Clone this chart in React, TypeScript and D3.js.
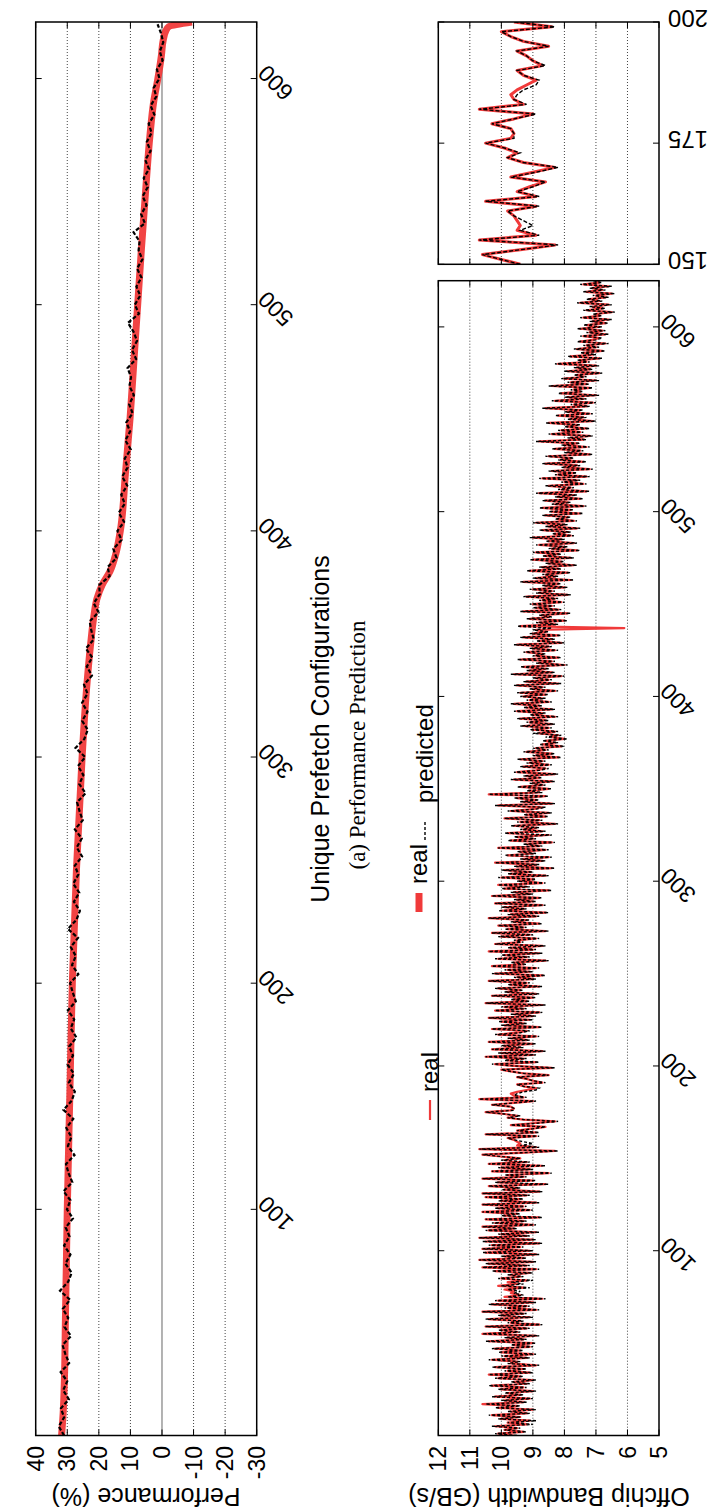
import React from "react";
import * as d3 from "d3";

const FONT = "'Liberation Sans', Arial, Helvetica, sans-serif";
const SERIF = "'Liberation Serif', 'Times New Roman', serif";
const RED = "#f03a3a";

// ---------- Performance prediction panel ----------
const perfTicks = [40, 30, 20, 10, 0, -10, -20, -30];
const configTicks = [100, 200, 300, 400, 500, 600];

// measured performance (thick smooth curve), knots along the configuration index
const perfRealIdx = [0, 10, 25, 50, 100, 150, 200, 250, 300, 330, 350, 362, 370, 376, 382, 390, 400, 425, 450, 475, 500, 525, 550, 575, 590, 600, 610, 617, 621, 623, 625];
const perfRealVal = [31.8, 31.3, 30.9, 30.6, 30.0, 29.2, 28.4, 27.1, 25.3, 23.9, 22.6, 21.6, 20.6, 19.0, 16.5, 14.6, 13.2, 11.6, 10.1, 8.9, 7.7, 6.5, 5.2, 3.8, 2.6, 1.3, 0.2, -0.4, -1.2, -2.2, -9.5];

// predicted performance, one value every 4 configurations (0..624)
const perfPredStep = 4;
const perfPredVal = [
  31.0, 32.7, 31.0, 32.0, 29.5, 31.3, 30.0, 32.1, 29.4, 30.6,
  31.5, 28.8, 30.9, 29.7, 31.4, 29.1, 32.3, 29.7, 28.6, 30.6,
  29.0, 31.0, 29.3, 30.5, 28.2, 30.1, 29.0, 31.2, 28.4, 29.6,
  30.4, 27.7, 29.8, 28.7, 30.3, 28.1, 31.2, 28.6, 27.6, 29.5,
  27.9, 29.9, 28.2, 29.4, 27.1, 28.9, 27.8, 29.8, 27.3, 28.3,
  29.1, 26.5, 28.5, 27.3, 28.9, 26.6, 29.8, 27.1, 26.0, 27.9,
  26.2, 28.1, 26.5, 27.6, 25.3, 27.0, 25.4, 27.6, 25.1, 26.1,
  26.9, 24.2, 26.2, 24.9, 26.6, 24.3, 27.4, 24.6, 23.5, 25.3,
  23.6, 25.3, 23.6, 24.7, 22.2, 23.8, 22.1, 24.1, 21.6, 22.4,
  22.9, 20.1, 21.6, 19.7, 19.9, 16.6, 17.2, 14.4, 15.4, 12.8,
  14.1, 12.0, 13.7, 11.8, 12.9, 11.0, 12.6, 10.9, 11.8, 9.9,
  11.6, 10.1, 11.3, 9.3, 10.4, 8.9, 10.3, 9.8, 10.9, 8.2,
  9.5, 7.9, 9.0, 10.8, 7.3, 8.6, 6.9, 8.1, 6.5, 7.9,
  6.2, 7.4, 7.1, 9.0, 5.4, 6.6, 4.9, 6.1, 4.5, 5.8,
  4.1, 5.3, 3.6, 4.8, 3.3, 4.2, 2.4, 3.6, 1.8, 2.6,
  0.8, 1.6, -0.2, 0.7, -0.4, 0.3, 1.4,
];

// ---------- Offchip bandwidth panel (one value per configuration, 0..625) ----------
const bwTicks = [12, 11, 10, 9, 8, 7, 6, 5];
const insetTicks = [150, 175, 200];
const insetFrom = 150;
const insetTo = 200;

const bwReal = [
  9.6, 10.1, 9.3, 9.9, 9.5, 10.2, 9.2, 9.8, 9.1, 10.0, 9.4, 10.3, 9.2, 9.7, 9.0, 10.1, 9.5, 10.6, 9.3, 9.9, 9.1, 10.2, 9.4, 9.8, 9.0,
  10.0, 9.3, 10.3, 9.2, 9.6, 9.0, 10.1, 9.4, 10.4, 9.1, 9.8, 9.3, 10.2, 8.9, 9.7, 9.5, 10.3, 9.2, 9.9, 9.0, 10.0, 9.4, 10.2, 9.1, 9.6,
  9.0, 10.4, 9.3, 9.8, 8.9, 10.6, 9.5, 10.0, 9.2, 10.5, 8.8, 9.7, 9.4, 10.4, 9.1, 10.0, 9.3, 10.6, 8.9, 9.8, 9.2, 10.3, 9.0, 10.1, 8.7,
  9.9, 9.4, 9.7, 9.6, 9.9, 9.3, 10.1, 9.5, 9.8, 9.2, 10.0, 9.4, 9.7, 9.1, 10.2, 8.9, 10.6, 9.2, 10.4, 9.0, 10.7, 9.3, 9.9, 8.9, 10.5,
  9.1, 10.6, 9.4, 10.3, 8.8, 10.5, 9.0, 10.7, 9.2, 10.0, 8.9, 10.4, 9.6, 10.6, 9.0, 10.2, 9.3, 10.5, 8.8, 9.9, 9.5, 10.6, 9.1, 10.1, 9.3,
  10.6, 8.9, 10.0, 9.4, 10.5, 9.2, 10.6, 8.8, 9.9, 9.5, 10.4, 8.6, 10.1, 9.0, 10.6, 9.3, 9.8, 8.5, 10.3, 9.1, 10.0, 8.7, 10.4, 9.2, 9.9,
  9.4, 10.0, 10.6, 9.4, 8.3, 10.7, 8.9, 9.5, 9.4, 9.5, 9.6, 9.8, 8.9, 10.5, 8.9, 9.5, 9.1, 8.6, 9.7, 9.0, 8.3, 9.3, 9.8, 9.5, 9.9,
  10.5, 9.7, 9.6, 9.7, 10.3, 9.6, 9.0, 10.7, 9.3, 9.6, 9.7, 9.5, 9.2, 8.9, 9.3, 9.5, 8.7, 9.0, 9.2, 9.5, 8.5, 9.3, 9.7, 10.0, 8.4, 9.6,
  10.2, 8.9, 9.8, 9.3, 10.5, 9.0, 10.0, 8.7, 10.3, 9.4, 9.9, 9.0, 10.4, 9.2, 9.7, 8.9, 10.1, 9.5, 9.2, 10.3, 8.8, 9.9, 9.3, 10.0, 9.1,
  10.4, 9.0, 9.6, 8.8, 10.2, 9.3, 9.9, 8.7, 10.5, 9.2, 9.6, 9.0, 10.3, 8.9, 9.8, 9.4, 10.1, 8.8, 9.7, 9.2, 10.4, 9.0, 9.5, 8.7, 10.2,
  9.1, 9.8, 8.9, 10.3, 9.3, 9.6, 8.6, 10.1, 9.2, 9.9, 8.8, 10.4, 9.0, 9.7, 8.7, 10.2, 9.4, 9.5, 8.9, 10.0, 9.1, 10.3, 8.6, 9.8, 9.3,
  10.1, 8.8, 9.6, 9.2, 10.4, 8.9, 9.7, 8.6, 10.0, 9.3, 9.9, 8.7, 10.2, 9.0, 9.5, 8.8, 10.3, 9.1, 9.6, 8.5, 9.9, 9.2, 10.1, 8.7, 9.4,
  9.0, 10.0, 8.6, 9.7, 9.1, 9.9, 8.4, 9.5, 8.9, 10.2, 8.7, 9.3, 8.5, 9.8, 9.0, 9.4, 8.6, 10.1, 8.8, 9.2, 8.4, 9.7, 9.0, 9.5, 8.5,
  9.8, 8.7, 9.3, 8.9, 9.6, 8.3, 9.4, 8.8, 9.9, 8.6, 9.2, 8.5, 9.7, 9.0, 8.7, 10.1, 8.4, 9.3, 8.9, 9.5, 8.6, 10.4, 8.8, 9.1, 8.5,
  9.4, 8.7, 9.0, 8.4, 9.6, 8.8, 9.2, 8.3, 9.5, 8.9, 8.6, 9.3, 8.5, 9.1, 8.7, 9.4, 8.2, 8.9, 8.4, 9.2, 8.6, 8.9, 8.1, 8.7, 8.3,
  8.6, 8.0, 8.4, 8.2, 8.8, 8.3, 9.0, 8.5, 9.3, 8.4, 9.1, 8.6, 9.4, 8.3, 9.0, 8.7, 9.5, 8.4, 9.2, 8.8, 9.6, 8.5, 9.1, 8.7, 9.3,
  8.6, 9.4, 8.3, 9.0, 8.7, 9.5, 8.2, 9.2, 8.5, 8.9, 8.1, 9.6, 8.4, 9.1, 8.6, 9.3, 8.0, 8.8, 8.4, 9.4, 8.2, 8.9, 8.7, 9.2, 8.3,
  9.0, 8.5, 9.5, 8.1, 8.8, 8.4, 9.3, 8.2, 9.0, 8.6, 8.9, 6.1, 9.4, 8.3, 8.8, 8.0, 9.1, 8.5, 8.7, 7.9, 9.3, 8.2, 8.9, 8.4, 9.0,
  8.1, 8.7, 8.3, 9.2, 7.9, 8.8, 8.4, 9.0, 8.0, 8.6, 8.2, 9.3, 7.8, 8.9, 8.3, 8.6, 7.9, 9.1, 8.2, 8.7, 7.7, 8.5, 8.1, 9.0, 7.8,
  8.6, 8.2, 8.9, 7.6, 8.4, 8.0, 8.8, 7.7, 8.5, 8.1, 9.0, 7.8, 8.3, 7.9, 8.7, 7.6, 8.5, 8.0, 8.9, 7.7, 8.2, 7.9, 8.6, 7.5, 8.4,
  7.8, 8.7, 7.4, 8.3, 7.9, 8.6, 7.5, 8.2, 7.7, 8.8, 7.3, 8.1, 7.8, 8.5, 7.4, 8.0, 7.6, 8.7, 7.3, 8.2, 7.7, 8.4, 7.2, 8.0, 7.6,
  8.6, 7.4, 8.1, 7.8, 8.5, 7.2, 7.9, 7.5, 8.3, 7.3, 8.0, 7.6, 8.8, 7.4, 7.8, 7.2, 8.4, 7.5, 8.1, 7.3, 7.9, 7.6, 8.5, 7.1, 7.8,
  7.4, 8.2, 7.2, 7.9, 7.5, 8.6, 7.3, 7.7, 7.1, 8.3, 7.4, 7.9, 7.0, 8.1, 7.5, 7.7, 7.2, 8.4, 7.3, 7.8, 7.0, 8.0, 7.4, 7.6, 6.9,
  7.9, 7.2, 7.6, 7.0, 8.2, 7.3, 7.5, 6.9, 7.8, 7.1, 7.4, 6.8, 7.6, 7.0, 7.3, 6.7, 7.5, 7.1, 6.9, 7.4, 6.7, 7.2, 6.8, 7.5, 6.9,
  7.3, 6.7, 7.1, 6.6, 7.4, 6.9, 7.0, 6.5, 7.3, 6.8, 7.1, 6.6, 7.5, 6.9, 7.2, 6.7, 7.0, 6.5, 7.3, 6.8, 7.1, 6.6, 7.4, 6.9, 7.0,
];

const bwPred = [
  9.5, 10.2, 9.2, 9.9, 9.4, 10.3, 9.0, 9.8, 8.9, 10.1, 9.4, 10.4, 9.1, 9.8, 8.9, 10.2, 9.4, 10.5, 9.2, 10.0, 9.0, 10.3, 9.3, 9.9, 8.9,
  10.1, 9.2, 10.4, 9.1, 9.7, 8.9, 10.2, 9.3, 10.4, 9.0, 9.9, 9.2, 10.3, 8.8, 9.8, 9.4, 10.4, 9.1, 10.0, 8.9, 10.1, 9.3, 10.3, 9.0, 9.7,
  8.9, 10.5, 9.2, 9.9, 8.8, 10.6, 9.4, 10.1, 9.1, 10.5, 8.7, 9.8, 9.3, 10.5, 9.0, 10.1, 9.2, 10.6, 8.8, 9.9, 9.1, 10.4, 8.9, 10.2, 8.6,
  9.8, 9.3, 9.6, 9.4, 9.8, 9.1, 10.0, 9.3, 9.7, 9.0, 10.1, 9.3, 9.8, 9.0, 10.3, 8.8, 10.6, 9.1, 10.5, 8.9, 10.7, 9.2, 10.0, 8.8, 10.6,
  9.0, 10.6, 9.3, 10.4, 8.7, 10.6, 8.9, 10.7, 9.1, 10.1, 8.8, 10.5, 9.5, 10.6, 8.9, 10.3, 9.2, 10.5, 8.7, 10.0, 9.4, 10.6, 9.0, 10.2, 9.2,
  10.6, 8.8, 10.1, 9.3, 10.5, 9.1, 10.6, 8.7, 10.0, 9.4, 10.4, 8.5, 10.2, 8.9, 10.6, 9.2, 9.9, 8.4, 10.3, 9.0, 10.1, 8.6, 10.4, 9.1, 10.0,
  9.4, 10.0, 10.6, 9.4, 8.2, 10.7, 8.8, 9.4, 9.0, 9.3, 9.6, 9.8, 8.8, 10.5, 8.8, 9.5, 9.0, 8.6, 9.7, 8.9, 8.2, 9.3, 9.8, 9.4, 9.9,
  10.5, 9.6, 9.6, 9.7, 10.3, 9.6, 8.9, 10.7, 9.2, 9.6, 9.5, 9.3, 8.9, 8.8, 9.3, 9.5, 8.6, 9.0, 9.2, 9.5, 8.5, 9.3, 9.7, 10.0, 8.3, 9.6,
  10.3, 8.8, 9.9, 9.2, 10.5, 8.9, 10.1, 8.6, 10.3, 9.3, 10.0, 8.9, 10.4, 9.1, 9.8, 8.8, 10.2, 9.4, 9.1, 10.3, 8.7, 10.0, 9.2, 10.1, 9.0,
  10.4, 8.9, 9.7, 8.7, 10.2, 9.2, 10.0, 8.6, 10.5, 9.1, 9.7, 8.9, 10.3, 8.8, 9.9, 9.3, 10.2, 8.7, 9.8, 9.1, 10.4, 8.9, 9.6, 8.6, 10.3,
  9.0, 9.9, 8.8, 10.3, 9.2, 9.7, 8.5, 10.2, 9.1, 10.0, 8.7, 10.4, 8.9, 9.8, 8.6, 10.2, 9.3, 9.6, 8.8, 10.1, 9.0, 10.3, 8.5, 9.9, 9.2,
  10.1, 8.7, 9.7, 9.1, 10.4, 8.8, 9.8, 8.5, 10.1, 9.2, 10.0, 8.6, 10.2, 8.9, 9.6, 8.7, 10.3, 9.0, 9.7, 8.4, 10.0, 9.1, 10.1, 8.6, 9.5,
  8.9, 10.1, 8.5, 9.8, 9.0, 10.0, 8.3, 9.6, 8.8, 10.2, 8.6, 9.4, 8.4, 9.9, 8.9, 9.5, 8.5, 10.1, 8.7, 9.3, 8.3, 9.8, 8.9, 9.6, 8.4,
  9.9, 8.6, 9.4, 8.8, 9.7, 8.2, 9.5, 8.7, 9.9, 8.5, 9.3, 8.4, 9.8, 8.9, 8.6, 10.2, 8.3, 9.4, 8.8, 9.6, 8.5, 10.4, 8.7, 9.2, 8.4,
  9.5, 8.6, 9.1, 8.3, 9.7, 8.7, 9.3, 8.2, 9.6, 8.8, 8.5, 9.4, 8.4, 9.2, 8.6, 9.5, 8.1, 9.0, 8.3, 9.3, 8.5, 9.0, 8.0, 8.8, 8.2,
  8.7, 7.9, 8.6, 8.1, 9.0, 8.2, 9.1, 8.4, 9.4, 8.3, 9.2, 8.5, 9.5, 8.2, 9.1, 8.6, 9.6, 8.3, 9.3, 8.7, 9.7, 8.4, 9.2, 8.6, 9.4,
  8.5, 9.5, 8.2, 9.1, 8.6, 9.6, 8.1, 9.3, 8.4, 9.0, 8.0, 9.7, 8.3, 9.2, 8.5, 9.4, 7.9, 8.9, 8.3, 9.5, 8.1, 9.0, 8.6, 9.3, 8.2,
  9.1, 8.4, 9.6, 8.0, 8.9, 8.3, 9.4, 8.1, 9.1, 8.5, 9.0, 8.4, 9.5, 8.2, 8.9, 7.9, 9.2, 8.4, 8.8, 7.8, 9.4, 8.1, 9.0, 8.3, 9.1,
  8.0, 8.8, 8.2, 9.3, 7.8, 8.9, 8.3, 9.1, 7.9, 8.7, 8.1, 9.4, 7.7, 9.0, 8.2, 8.7, 7.8, 9.2, 8.1, 8.8, 7.6, 8.6, 8.0, 9.1, 7.7,
  8.7, 8.1, 9.0, 7.5, 8.5, 7.9, 8.9, 7.6, 8.6, 8.0, 9.1, 7.7, 8.4, 7.8, 8.8, 7.5, 8.6, 7.9, 9.0, 7.6, 8.3, 7.8, 8.7, 7.4, 8.5,
  7.7, 8.8, 7.3, 8.4, 7.8, 8.7, 7.4, 8.3, 7.6, 8.9, 7.2, 8.2, 7.7, 8.6, 7.3, 8.1, 7.5, 8.8, 7.2, 8.3, 7.6, 8.5, 7.1, 8.1, 7.5,
  8.7, 7.3, 8.2, 7.7, 8.6, 7.1, 8.0, 7.4, 8.4, 7.2, 8.1, 7.5, 8.9, 7.3, 7.9, 7.1, 8.5, 7.4, 8.2, 7.2, 8.0, 7.5, 8.6, 7.0, 7.9,
  7.3, 8.3, 7.1, 8.0, 7.4, 8.7, 7.2, 7.8, 7.0, 8.4, 7.3, 8.0, 6.9, 8.2, 7.4, 7.8, 7.1, 8.5, 7.2, 7.9, 6.9, 8.1, 7.3, 7.7, 6.8,
  8.0, 7.1, 7.7, 6.9, 8.3, 7.2, 7.6, 6.8, 7.9, 7.0, 7.5, 6.7, 7.7, 6.9, 7.4, 6.6, 7.6, 7.0, 6.8, 7.5, 6.6, 7.3, 6.7, 7.6, 6.8,
  7.4, 6.6, 7.2, 6.5, 7.5, 6.8, 7.1, 6.4, 7.4, 6.7, 7.2, 6.5, 7.6, 6.8, 7.3, 6.6, 7.1, 6.4, 7.4, 6.7, 7.2, 6.5, 7.5, 6.8, 7.1,
];

// ---------- geometry ----------
const P = { left: 35.7, right: 256.7, top: 22, bottom: 1435.5 };
const B = { left: 438.3, right: 659, top: 280.7, bottom: 1435.5 };
const I = { left: 438.3, right: 659, top: 22, bottom: 264.3 };

function RotText(props: {
  x: number; y: number; angle: number; anchor?: string; size: number;
  family?: string; dy?: string; children: React.ReactNode;
}) {
  const { x, y, angle, anchor = "middle", size, family = FONT, dy = "0.35em", children } = props;
  return (
    <text
      transform={`translate(${x},${y}) rotate(${angle})`}
      textAnchor={anchor}
      dy={dy}
      fontSize={size}
      fontFamily={family}
      fill="#000"
    >
      {children}
    </text>
  );
}

export default function App() {
  const xP = d3.scaleLinear().domain([40, -30]).range([P.left, P.right]);
  const yP = d3.scaleLinear().domain([0, 625]).range([P.bottom, P.top]);
  const xB = d3.scaleLinear().domain([12, 5]).range([B.left, B.right]);
  const yB = d3.scaleLinear().domain([0, 625]).range([B.bottom, B.top]);
  const yI = d3.scaleLinear().domain([insetFrom, insetTo]).range([I.bottom, I.top]);

  const perfRealLine = d3
    .line<number>()
    .x((d) => xP(d))
    .y((_, i) => yP(perfRealIdx[i]))
    .curve(d3.curveMonotoneY);
  const perfPredLine = d3
    .line<number>()
    .x((d) => xP(d))
    .y((_, i) => yP(i * perfPredStep));

  const bwLine = d3
    .line<number>()
    .x((d) => xB(d))
    .y((_, i) => yB(i));
  const insetLine = d3
    .line<number>()
    .x((d) => xB(d))
    .y((_, i) => yI(insetFrom + i));

  const tick = 6;
  const tickLen = 23;

  return (
    <svg
      width={713}
      height={1512}
      viewBox="0 0 713 1512"
      style={{ position: "absolute", left: 0, top: 0, background: "#fff" }}
    >
      <defs>
        <clipPath id="clip-perf">
          <rect x={P.left} y={P.top} width={P.right - P.left} height={P.bottom - P.top} />
        </clipPath>
        <clipPath id="clip-bw">
          <rect x={B.left} y={B.top} width={B.right - B.left} height={B.bottom - B.top} />
        </clipPath>
        <clipPath id="clip-inset">
          <rect x={I.left} y={I.top} width={I.right - I.left} height={I.bottom - I.top} />
        </clipPath>
      </defs>
      <rect x={0} y={0} width={713} height={1512} fill="#fff" />

      {/* ===== Performance panel ===== */}
      {perfTicks
        .filter((v) => v !== 40 && v !== -30 && v !== 0)
        .map((v) => (
          <line key={`pg${v}`} x1={xP(v)} x2={xP(v)} y1={P.top} y2={P.bottom}
            stroke="#444" strokeWidth={1} strokeDasharray="1,2" />
        ))}
      <line x1={xP(0)} x2={xP(0)} y1={P.top} y2={P.bottom} stroke="#999" strokeWidth={1.5} />
      <g clipPath="url(#clip-perf)">
        <path d={perfRealLine(perfRealVal) || ""} fill="none" stroke={RED} strokeWidth={7}
          strokeLinejoin="round" opacity={0.95} />
        <path d={perfPredLine(perfPredVal) || ""} fill="none" stroke="#000" strokeWidth={2.2}
          strokeDasharray="4,2" />
      </g>
      <rect x={P.left} y={P.top} width={P.right - P.left} height={P.bottom - P.top}
        fill="none" stroke="#000" strokeWidth={1.5} />
      {perfTicks.map((v) => (
        <g key={`pt${v}`}>
          <line x1={xP(v)} x2={xP(v)} y1={P.top} y2={P.top + tick} stroke="#000" />
          <line x1={xP(v)} x2={xP(v)} y1={P.bottom} y2={P.bottom - tick} stroke="#000" />
          <RotText x={xP(v)} y={1446} angle={-90} anchor="end" size={tickLen}>{v}</RotText>
        </g>
      ))}
      {configTicks.map((v) => (
        <g key={`pc${v}`}>
          <line x1={P.left} x2={P.left + tick} y1={yP(v)} y2={yP(v)} stroke="#000" />
          <line x1={P.right} x2={P.right - tick} y1={yP(v)} y2={yP(v)} stroke="#000" />
          <RotText x={P.right + 11} y={yP(v) - 15} angle={225} anchor="end" size={tickLen} dy="0">{v}</RotText>
        </g>
      ))}
      <RotText x={146} y={1497} angle={180} size={25}>Performance (%)</RotText>
      <RotText x={320} y={729} angle={-90} size={25}>Unique Prefetch Configurations</RotText>
      <RotText x={357} y={745} angle={-90} size={23} family={SERIF}>(a) Performance Prediction</RotText>

      {/* key: thick measured line */}
      <line x1={419} x2={419} y1={893} y2={912} stroke={RED} strokeWidth={7} />
      <RotText x={419} y={884} angle={-90} anchor="start" size={24}>real</RotText>

      {/* ===== Offchip bandwidth panel ===== */}
      {bwTicks
        .filter((v) => v !== 12 && v !== 5)
        .map((v) => (
          <g key={`bg${v}`}>
            <line x1={xB(v)} x2={xB(v)} y1={B.top} y2={B.bottom}
              stroke="#444" strokeWidth={1} strokeDasharray="1,2" />
            <line x1={xB(v)} x2={xB(v)} y1={I.top} y2={I.bottom}
              stroke="#444" strokeWidth={1} strokeDasharray="1,2" />
          </g>
        ))}
      <g clipPath="url(#clip-bw)">
        <path d={bwLine(bwReal) || ""} fill="none" stroke={RED} strokeWidth={2.2}
          strokeLinejoin="round" />
        <path d={bwLine(bwPred) || ""} fill="none" stroke="#000" strokeWidth={1.4}
          strokeDasharray="3,2" />
      </g>
      <g clipPath="url(#clip-inset)">
        <path d={insetLine(bwReal.slice(insetFrom, insetTo + 1)) || ""} fill="none" stroke={RED} strokeWidth={3}
          strokeLinejoin="round" />
        <path d={insetLine(bwPred.slice(insetFrom, insetTo + 1)) || ""} fill="none" stroke="#000" strokeWidth={1.4}
          strokeDasharray="4,2" />
      </g>
      <rect x={B.left} y={B.top} width={B.right - B.left} height={B.bottom - B.top}
        fill="none" stroke="#000" strokeWidth={1.5} />
      <rect x={I.left} y={I.top} width={I.right - I.left} height={I.bottom - I.top}
        fill="none" stroke="#000" strokeWidth={1.5} />
      {bwTicks.map((v) => (
        <g key={`bt${v}`}>
          <line x1={xB(v)} x2={xB(v)} y1={B.top} y2={B.top + tick} stroke="#000" />
          <line x1={xB(v)} x2={xB(v)} y1={B.bottom} y2={B.bottom - tick} stroke="#000" />
          <line x1={xB(v)} x2={xB(v)} y1={I.top} y2={I.top + tick} stroke="#000" />
          <line x1={xB(v)} x2={xB(v)} y1={I.bottom} y2={I.bottom - tick} stroke="#000" />
          <RotText x={xB(v)} y={1446} angle={-90} anchor="end" size={tickLen}>{v}</RotText>
        </g>
      ))}
      {configTicks.map((v) => (
        <g key={`bc${v}`}>
          <line x1={B.left} x2={B.left + tick} y1={yB(v)} y2={yB(v)} stroke="#000" />
          <line x1={B.right} x2={B.right - tick} y1={yB(v)} y2={yB(v)} stroke="#000" />
          <RotText x={B.right + 11} y={yB(v) - 15} angle={225} anchor="end" size={tickLen} dy="0">{v}</RotText>
        </g>
      ))}
      {insetTicks.map((v) => (
        <g key={`it${v}`}>
          <line x1={I.left} x2={I.left + tick} y1={yI(v)} y2={yI(v)} stroke="#000" />
          <line x1={I.right} x2={I.right - tick} y1={yI(v)} y2={yI(v)} stroke="#000" />
          <RotText x={688} y={yI(v) - 4} angle={180} size={tickLen + 1}>{v}</RotText>
        </g>
      ))}
      <RotText x={549} y={1497} angle={180} size={25}>Offchip Bandwidth (GB/s)</RotText>

      {/* key: thin measured line and dashed prediction */}
      <line x1={430} x2={430} y1={1100} y2={1120} stroke={RED} strokeWidth={2.2} />
      <RotText x={430} y={1092} angle={-90} anchor="start" size={24}>real</RotText>
      <line x1={425} x2={425} y1={822} y2={842} stroke="#000" strokeWidth={1.4} strokeDasharray="3,2" />
      <RotText x={425} y={803} angle={-90} anchor="start" size={24}>predicted</RotText>
    </svg>
  );
}
